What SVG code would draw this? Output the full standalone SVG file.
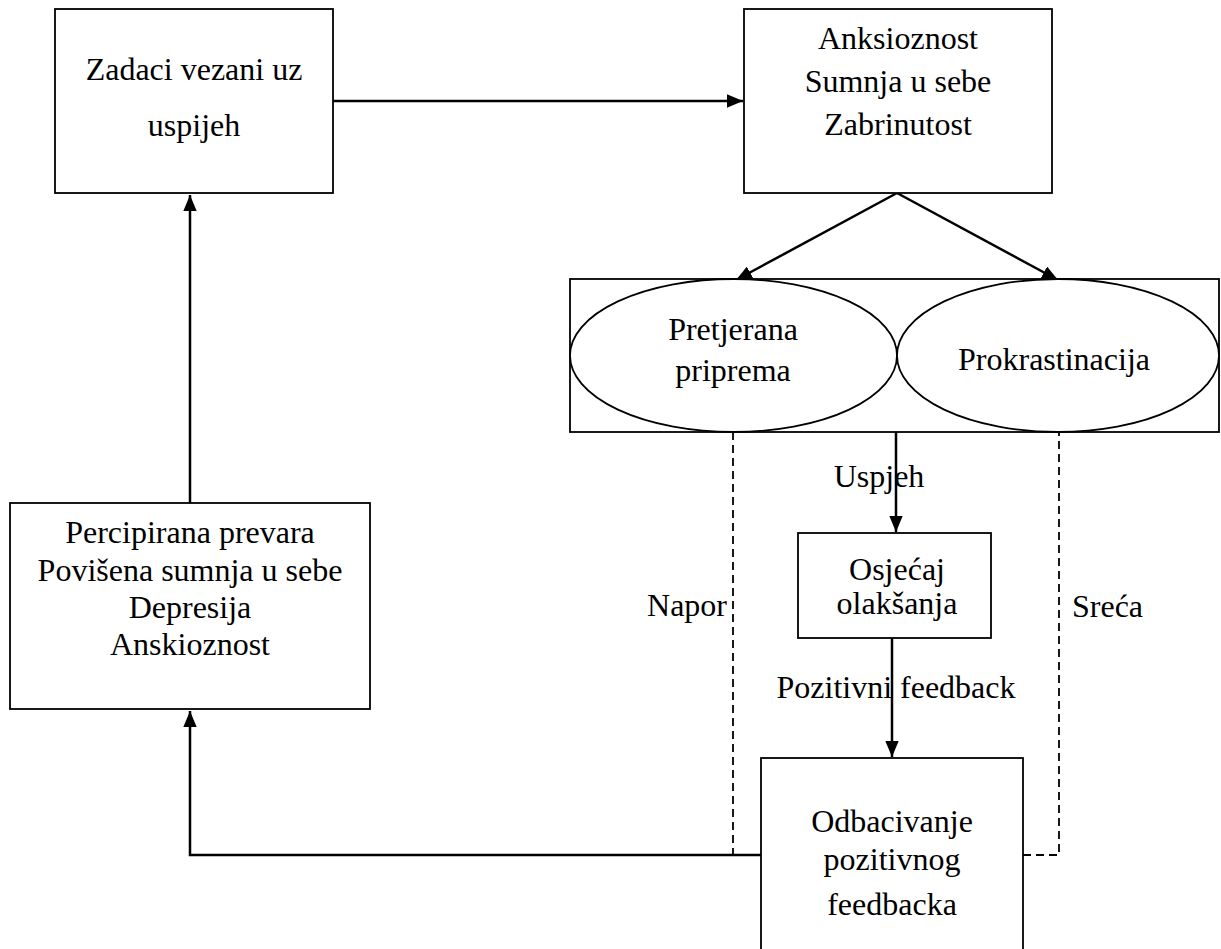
<svg xmlns="http://www.w3.org/2000/svg" width="1221" height="949" viewBox="0 0 1221 949">
<style>
.box{fill:#fff;stroke:#000;stroke-width:1.8}
.ell{fill:#fff;stroke:#000;stroke-width:1.8}
.t{font-family:"Liberation Serif","Times New Roman",serif;font-size:32px;fill:#000;text-anchor:middle}
.ts{font-family:"Liberation Serif","Times New Roman",serif;font-size:32px;fill:#000}
.arr{fill:none;stroke:#000;stroke-width:2.5}
.dash{fill:none;stroke:#000;stroke-width:1.8;stroke-dasharray:8,5}
</style>
<defs>
<marker id="ah" viewBox="0 0 12 10" refX="12" refY="5" markerWidth="6.4" markerHeight="5.4" markerUnits="strokeWidth" orient="auto">
<path d="M0,0 L12,5 L0,10 z" fill="#000"/>
</marker>
</defs>
<rect width="1221" height="949" fill="#fff"/>
<g id="connectors">
<line class="arr" x1="333" y1="101" x2="743" y2="101" marker-end="url(#ah)"/>
<line class="arr" x1="897" y1="193" x2="736" y2="280" marker-end="url(#ah)"/>
<line class="arr" x1="897" y1="193" x2="1058" y2="280" marker-end="url(#ah)"/>
<line class="arr" x1="896" y1="432" x2="896" y2="532" marker-end="url(#ah)"/>
<line class="arr" x1="892" y1="638" x2="892" y2="757" marker-end="url(#ah)"/>
<polyline class="arr" points="761,855 190,855 190,711" marker-end="url(#ah)"/>
<line class="arr" x1="190" y1="503" x2="190" y2="195" marker-end="url(#ah)"/>
<polyline class="dash" points="733,432 733,855 761,855"/>
<polyline class="dash" points="1023,855 1059,855 1059,432"/>
</g>
<g id="n-zadaci">
<rect class="box" x="55" y="9" width="278" height="184"/>
<text class="t" x="194" y="80">Zadaci vezani uz</text>
<text class="t" x="194" y="136">uspijeh</text>
</g>
<g id="n-anksioznost">
<rect class="box" x="744" y="9" width="308" height="184"/>
<text class="t" x="898" y="49">Anksioznost</text>
<text class="t" x="898" y="92">Sumnja u sebe</text>
<text class="t" x="898" y="135">Zabrinutost</text>
</g>
<g id="n-ponasanja">
<rect class="box" x="570" y="279" width="649" height="153"/>
<ellipse class="ell" cx="733.5" cy="355.5" rx="163.5" ry="76.5"/>
<ellipse class="ell" cx="1058" cy="355.5" rx="161" ry="76.5"/>
<text class="t" x="733" y="340">Pretjerana</text>
<text class="t" x="733" y="381">priprema</text>
<text class="t" x="1054" y="370">Prokrastinacija</text>
</g>
<g id="n-osjecaj">
<rect class="box" x="798" y="533" width="193" height="105"/>
<text class="t" x="897" y="580">Osjećaj</text>
<text class="t" x="897" y="614">olakšanja</text>
</g>
<g id="n-odbacivanje">
<rect class="box" x="761" y="758" width="262" height="200"/>
<text class="t" x="892" y="832">Odbacivanje</text>
<text class="t" x="892" y="870">pozitivnog</text>
<text class="t" x="892" y="915">feedbacka</text>
</g>
<g id="n-percipirana">
<rect class="box" x="10" y="503" width="360" height="206"/>
<text class="t" x="190" y="543">Percipirana prevara</text>
<text class="t" x="190" y="581">Povišena sumnja u sebe</text>
<text class="t" x="190" y="618">Depresija</text>
<text class="t" x="190" y="655">Anskioznost</text>
</g>
<g id="labels">
<text class="t" x="879" y="487">Uspjeh</text>
<text class="t" x="896" y="698">Pozitivni feedback</text>
<text class="ts" x="727" y="616" text-anchor="end">Napor</text>
<text class="ts" x="1072" y="617">Sreća</text>
</g>
</svg>
